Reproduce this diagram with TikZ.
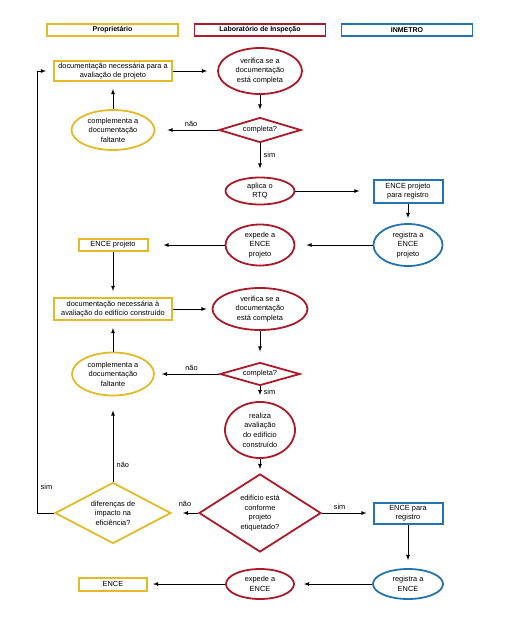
\documentclass[tikz,border=0pt]{standalone}
\usepackage{fontspec}
\setmainfont{Liberation Sans}
\usetikzlibrary{positioning,shapes,arrows}

\definecolor{propyellow}{RGB}{228,186,40}
\definecolor{labred}{RGB}{172,26,42}
\definecolor{inmblue}{RGB}{36,116,176}

\tikzset{
  lane/.style={draw, line width=1.8pt, minimum width=131pt, minimum height=12pt, inner sep=0pt, font=\bfseries\fontsize{7}{8}\selectfont},
  docbox/.style={draw, line width=2pt, align=center, inner sep=1pt},
  task/.style={ellipse, draw, line width=1.8pt, align=center, inner sep=0pt},
  check/.style={diamond, draw, line width=1.8pt, align=center, inner sep=0pt},
  flow/.style={->, >=latex, line width=0.8pt, shorten >=8pt}
}

\begin{document}
\begin{tikzpicture}[x=1pt, y=-1pt, every node/.append style={font=\fontsize{7.4}{9.6}\selectfont}]
  \useasboundingbox (0,0) rectangle (506,638);

  % Lanes
  \node[lane, propyellow] (laneprop) at (112.5,30) {\textcolor{black}{Proprietário}};
  \node[lane, labred] (lanelab) at (260,30) {\textcolor{black}{Laboratório de Inspeção}};
  \node[lane, inmblue] (laneinm) at (407,30) {\textcolor{black}{INMETRO}};

  % Define nodes
  \node[docbox, draw=propyellow, minimum width=118pt, minimum height=20pt] (docproj) at (113,71) {documentação necessária para a\\avaliação de projeto};
  \node[task, draw=labred, minimum width=84pt, minimum height=46pt] (verproj) at (260,71) {verifica se a\\documentação\\está completa};
  \node[task, draw=propyellow, minimum width=83pt, minimum height=40pt] (compproj) at (113,130) {complementa a\\documentação\\faltante};
  \node[check, draw=labred, aspect=3.3, minimum width=82pt, minimum height=25pt] (okproj) at (260,130) {completa?};
  \node[task, draw=labred, minimum width=69pt, minimum height=27pt] (rtq) at (260,191) {aplica o\\RTQ};
  \node[docbox, draw=inmblue, minimum width=69pt, minimum height=23pt] (enceprojreg) at (408,191) {ENCE projeto\\para registro};
  \node[task, draw=inmblue, minimum width=69pt, minimum height=42pt] (regproj) at (408,245) {registra a\\ENCE\\projeto};
  \node[task, draw=labred, minimum width=69pt, minimum height=41pt] (expproj) at (260,245) {expede a\\ENCE\\projeto};
  \node[docbox, draw=propyellow, minimum width=69pt, minimum height=12pt] (enceproj) at (113,245) {ENCE projeto};
  \node[docbox, draw=propyellow, minimum width=118pt, minimum height=22pt] (docobra) at (113,309) {documentação necessária à\\avaliação do edifício construído};
  \node[task, draw=labred, minimum width=95pt, minimum height=42pt] (verobra) at (260,309) {verifica se a\\documentação\\está completa};
  \node[check, draw=labred, aspect=3.3, minimum width=80pt, minimum height=23pt] (okobra) at (260,374) {completa?};
  \node[task, draw=propyellow, minimum width=82pt, minimum height=43pt] (compobra) at (113,374) {complementa a\\documentação\\faltante};
  \node[task, draw=labred, minimum width=70pt, minimum height=56pt] (avalia) at (260,430) {realiza\\avaliação\\do edifício\\construído};
  \node[check, draw=labred, aspect=1.56, minimum width=122pt, minimum height=78pt] (conforme) at (260,513) {edifício está\\conforme\\projeto\\etiquetado?};
  \node[check, draw=propyellow, aspect=1.9, minimum width=116pt, minimum height=61pt] (impacto) at (113,513) {diferenças de\\impacto na\\eficiência?};
  \node[docbox, draw=inmblue, minimum width=69pt, minimum height=21pt] (encereg) at (408,513) {ENCE para\\registro};
  \node[task, draw=inmblue, minimum width=70pt, minimum height=30pt] (regence) at (408,584) {registra a\\ENCE};
  \node[task, draw=labred, minimum width=68pt, minimum height=30pt] (expence) at (260,584) {expede a\\ENCE};
  \node[docbox, draw=propyellow, minimum width=68pt, minimum height=13pt] (ence) at (113,584) {ENCE};
  \coordinate (loop) at (37,513);

  % Connect the nodes
  \draw[flow, shorten >=10pt] (docproj) -- (verproj);
  \draw[flow, shorten >=7pt] (compproj) -- (docproj);
  \draw[flow, shorten >=7pt] (verproj) -- (okproj);
  \draw[flow, shorten >=12pt] (okproj) -- node[above, pos=0.43] {não} (compproj);
  \draw[flow] (okproj) -- node[right, pos=0.35] {sim} (rtq);
  \draw[flow, shorten >=13pt] (rtq) -- (enceprojreg);
  \draw[flow, shorten >=5pt] (enceprojreg) -- (regproj);
  \draw[flow, shorten >=11pt] (regproj) -- (expproj);
  \draw[flow, shorten >=15pt] (expproj) -- (enceproj);
  \draw[flow, shorten >=6pt] (enceproj) -- (docobra);
  \draw[flow, shorten >=5pt] (docobra) -- (verobra);
  \draw[flow, shorten >=10pt] (verobra) -- (okobra);
  \draw[flow, shorten >=7pt] (okobra) -- node[above, pos=0.43] {não} (compobra);
  \draw[flow, shorten >=7pt] (compobra) -- (docobra);
  \draw[flow, shorten >=6pt] (okobra) -- node[right, pos=0.4] {sim} (avalia);
  \draw[flow, shorten >=4pt] (avalia) -- (conforme);
  \draw[flow, shorten >=11pt] (conforme) -- node[above=3pt] {não} (impacto);
  \draw[flow, shorten >=14pt] (impacto) -- node[right, pos=0.2] {não} (compobra);
  \draw[flow, shorten >=7pt] (impacto.west) -- (loop) |- node[right, pos=0.03] {sim} (docproj.west);
  \draw[flow, shorten >=6pt] (conforme) -- node[above, pos=0.35] {sim} (encereg);
  \draw[flow] (encereg) -- (regence);
  \draw[flow, shorten >=9pt] (regence) -- (expence);
  \draw[flow, shorten >=5pt] (expence) -- (ence);
\end{tikzpicture}
\end{document}
